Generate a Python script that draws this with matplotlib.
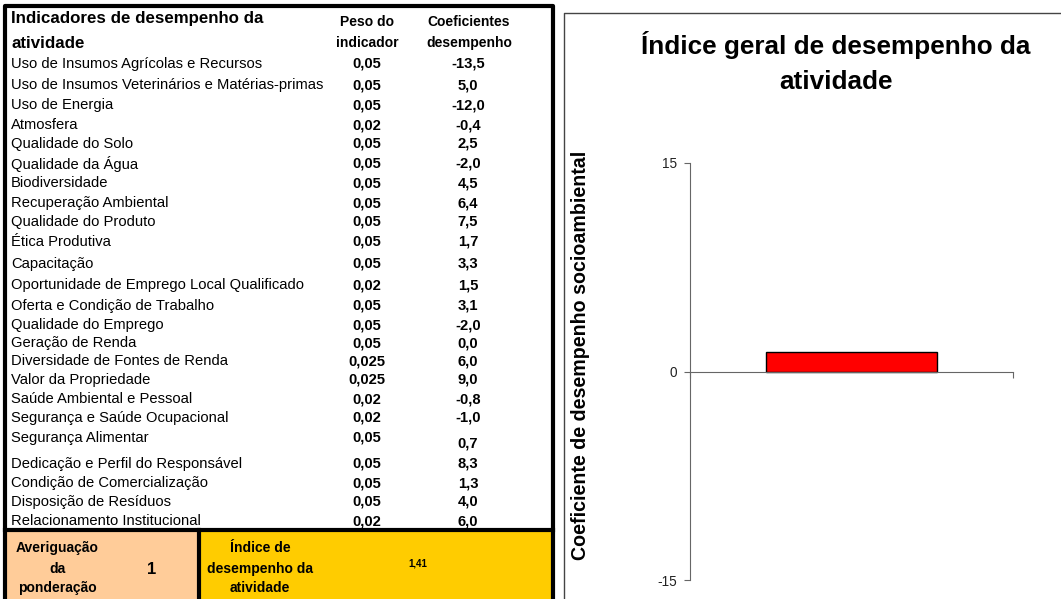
import matplotlib.pyplot as plt
from matplotlib.patches import Rectangle

plt.rcParams['font.family'] = ['Liberation Sans', 'DejaVu Sans']

# Table data
indicadores = ['Uso de Insumos Agrícolas e Recursos',
               'Uso de Insumos Veterinários e Matérias-primas',
               'Uso de Energia', 'Atmosfera', 'Qualidade do Solo',
               'Qualidade da Água', 'Biodiversidade', 'Recuperação Ambiental',
               'Qualidade do Produto', 'Ética Produtiva', 'Capacitação',
               'Oportunidade de Emprego Local Qualificado',
               'Oferta e Condição de Trabalho', 'Qualidade do Emprego',
               'Geração de Renda', 'Diversidade de Fontes de Renda',
               'Valor da Propriedade', 'Saúde Ambiental e Pessoal',
               'Segurança e Saúde Ocupacional', 'Segurança Alimentar',
               'Dedicação e Perfil do Responsável',
               'Condição de Comercialização', 'Disposição de Resíduos',
               'Relacionamento Institucional']
pesos = [0.05, 0.05, 0.05, 0.02, 0.05, 0.05, 0.05, 0.05, 0.05, 0.05, 0.05,
         0.02, 0.05, 0.05, 0.05, 0.025, 0.025, 0.02, 0.02, 0.05, 0.05, 0.05,
         0.05, 0.02]
coeficientes = [-13.5, 5.0, -12.0, -0.4, 2.5, -2.0, 4.5, 6.4, 7.5, 1.7, 3.3,
                1.5, 3.1, -2.0, 0.0, 6.0, 9.0, -0.8, -1.0, 0.7, 8.3, 1.3, 4.0,
                6.0]
averiguacao = 1
indice = 1.41

# Chart data
categorias = ['']
valores = [indice]


def br(v, nd):
    return f'{v:.{nd}f}'.replace('.', ',')


fig = plt.figure(figsize=(10.61, 5.99), dpi=100)

# ---- table drawn in pixel coordinates ----
tab = fig.add_axes([0, 0, 1, 1])
tab.set_xlim(0, 1061)
tab.set_ylim(599, 0)
tab.axis('off')

tab.add_patch(Rectangle((5, 530), 194, 75, facecolor='#FFCC99', edgecolor='none'))
tab.add_patch(Rectangle((199, 530), 354, 75, facecolor='#FFCC00', edgecolor='none'))
tab.plot([5, 5, 553, 553], [605, 6, 6, 605], color='black', lw=3, solid_capstyle='butt')
tab.plot([5, 553], [530, 530], color='black', lw=3)
tab.plot([199, 199], [530, 605], color='black', lw=3)

fs = 10.6
tab.text(11, 18, 'Indicadores de desempenho da', fontsize=12.2, fontweight='bold', va='center')
tab.text(11, 43, 'atividade', fontsize=12.2, fontweight='bold', va='center')
tab.text(367, 22, 'Peso do', fontsize=10, fontweight='bold', ha='center', va='center')
tab.text(367, 43, 'indicador', fontsize=10, fontweight='bold', ha='center', va='center')
tab.text(469, 22, 'Coeficientes', fontsize=10, fontweight='bold', ha='center', va='center')
tab.text(469, 43, 'desempenho', fontsize=10, fontweight='bold', ha='center', va='center')

row_y = [64, 85, 105, 125, 144, 164, 183, 203, 222, 242, 264, 285, 306, 325,
         343, 361, 380, 399, 418, 438, 464, 483, 502, 521]
for i, nome in enumerate(indicadores):
    y = row_y[i]
    tab.text(11, y, nome, fontsize=fs, va='center')
    nd = 3 if pesos[i] == 0.025 else 2
    tab.text(367, y, br(pesos[i], nd), fontsize=fs, fontweight='bold',
             ha='center', va='center')
    dy = 5 if i == 19 else 0
    tab.text(468, y + dy, br(coeficientes[i], 1), fontsize=fs, fontweight='bold',
             ha='center', va='center')

for y, s in zip([548, 569, 588], ['Averiguação', 'da', 'ponderação']):
    tab.text(57, y, s, fontsize=10, fontweight='bold', ha='center', va='center')
for y, s in zip([548, 569, 588], ['Índice de', 'desempenho da', 'atividade']):
    tab.text(260, y, s, fontsize=10, fontweight='bold', ha='center', va='center')
tab.text(152, 569, str(averiguacao), fontsize=12, fontweight='bold',
         ha='center', va='center')
tab.text(418, 564, br(indice, 2), fontsize=7, fontweight='bold',
         ha='center', va='center')

# chart frame
tab.plot([564, 564, 1065], [605, 13, 13], color='#444444', lw=1)

# ---- bar chart ----
ax = fig.add_axes([690 / 1061, 1 - 580 / 599, 323 / 1061, 417 / 599])
ax.bar([0], valores, width=0.53, color='#FF0000', edgecolor='black', lw=1)
ax.set_xlim(-0.5, 0.5)
ax.set_ylim(-15, 15)
ax.set_yticks([-15, 0, 15])
ax.set_yticklabels(['-15', '0', '15'], fontsize=9.8, color='#222222')
ax.set_xticks([-0.5, 0.5])
ax.set_xticklabels(categorias * 2)
ax.spines['top'].set_visible(False)
ax.spines['right'].set_visible(False)
ax.spines['bottom'].set_position(('data', 0))
ax.spines['left'].set_color('#666666')
ax.spines['bottom'].set_color('#666666')
ax.tick_params(axis='y', length=4, color='#666666', pad=5)
ax.tick_params(axis='x', length=4, color='#666666')
ax.patch.set_alpha(0)

fig.text(836 / 1061, 1 - 54 / 599, 'Índice geral de desempenho da',
         fontsize=18.8, fontweight='bold', ha='center', va='baseline')
fig.text(836 / 1061, 1 - 89 / 599, 'atividade',
         fontsize=18.8, fontweight='bold', ha='center', va='baseline')
fig.text(580 / 1061, 1 - 355 / 599, 'Coeficiente de desempenho socioambiental',
         fontsize=14.1, fontweight='bold', rotation=90, ha='center', va='center')

fig.savefig('out.png', dpi=100)
